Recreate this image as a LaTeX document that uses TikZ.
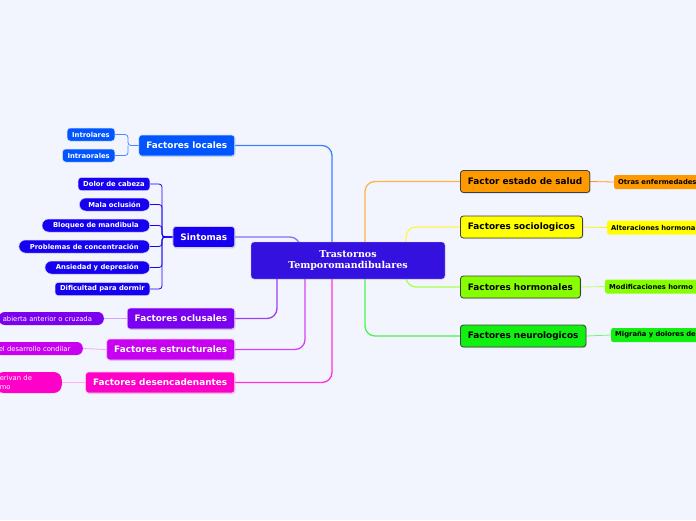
\documentclass[tikz,border=0pt]{standalone}
\usepackage{fontspec}
\setmainfont{DejaVu Sans}
\newfontfamily\serifcentral{DejaVu Serif}
\usetikzlibrary{backgrounds,shadows}

\definecolor{pagebg}{HTML}{F3F5FE}
\definecolor{ccentral}{HTML}{3511E0}
\definecolor{clocal}{HTML}{0055FF}
\definecolor{csint}{HTML}{1500F0}
\definecolor{cocl}{HTML}{7A00F0}
\definecolor{cestr}{HTML}{C800F0}
\definecolor{cdesen}{HTML}{FF00C8}
\definecolor{csalud}{HTML}{FF9900}
\definecolor{csocio}{HTML}{FFFF00}
\definecolor{chorm}{HTML}{88FF00}
\definecolor{cneuro}{HTML}{11F011}

\tikzset{
  topic/.style={rectangle, rounded corners=3pt, minimum height=21pt,
    inner xsep=7.5pt, inner ysep=0pt, font=\fontsize{8.9}{10.5}\selectfont\bfseries,
    drop shadow={shadow xshift=1pt, shadow yshift=-1pt, opacity=.25}},
  lefttopic/.style={topic, fill=#1, draw=white!80!#1, line width=0.6pt,
    text=white, anchor=east},
  righttopic/.style={topic, fill=#1, draw=black!75, line width=0.8pt,
    text=black, anchor=west, minimum height=22pt},
  leftleaf/.style={rectangle, rounded corners=3pt, fill=#1, draw=white!80!#1,
    line width=0.5pt, text=white, anchor=east, minimum height=13pt,
    inner xsep=5pt, inner ysep=0pt, font=\fontsize{6.8}{8}\selectfont\bfseries},
  pillleaf/.style={leftleaf=#1, rounded corners=6.5pt, inner xsep=11pt},
  edgeleaf/.style={rectangle, rounded corners=6pt, fill=#1, text=white,
    anchor=east, minimum height=13pt, inner xsep=4pt, inner ysep=0pt,
    align=left, font=\fontsize{6.8}{8.5}\selectfont},
  rightleaf/.style={rectangle, rounded corners=2pt, fill=#1, text=black,
    anchor=west, minimum height=14pt, inner xsep=4pt, inner ysep=0pt,
    text width=100pt, align=left, font=\fontsize{6.8}{8}\selectfont\bfseries},
  link/.style={draw=#1, line width=1.3pt, rounded corners=10pt},
  leaflink/.style={draw=#1, line width=0.8pt},
  bracket/.style={draw=#1, line width=0.8pt, rounded corners=3pt}
}

\begin{document}
\begin{tikzpicture}[x=1pt, y=-1pt]
\useasboundingbox (0,0) rectangle (696,520);

% tema central
\node[rectangle, rounded corners=3pt, fill=ccentral, draw=white!70!ccentral,
  minimum width=194pt, minimum height=37pt, inner sep=0pt, align=center,
  text=white, font=\serifcentral\fontsize{9.5}{11}\selectfont\bfseries]
  (central) at (348,260.5) {Trastornos\\Temporomandibulares};

% ramas izquierdas
\node[lefttopic=clocal] (locales) at (235,145.5) {Factores locales};
\node[lefttopic=csint] (sintomas) at (235,237) {Sintomas};
\node[lefttopic=cocl] (oclusales) at (235,318.5) {Factores oclusales};
\node[lefttopic=cestr] (estructurales) at (235,349.5) {Factores estructurales};
\node[lefttopic=cdesen] (desencadenantes) at (235,382.5) {Factores desencadenantes};

% ramas derechas
\node[righttopic=csalud] (salud) at (460,181.5) {Factor estado de salud};
\node[righttopic=csocio] (socio) at (460,227) {Factores sociologicos};
\node[righttopic=chorm] (hormonales) at (460,287) {Factores hormonales};
\node[righttopic=cneuro] (neuro) at (460,336) {Factores neurologicos};

% hojas de factores locales
\node[leftleaf=clocal] (introlares) at (115,134.5) {Introlares};
\node[leftleaf=clocal] (intraorales) at (115,155.5) {Intraorales};

% hojas de sintomas
\node[leftleaf=csint] (dolor) at (150,184) {Dolor de cabeza};
\node[pillleaf=csint, inner xsep=9pt] (mala) at (150,204.5) {Mala oclusión};
\node[pillleaf=csint] (bloqueo) at (150,225.5) {Bloqueo de mandibula};
\node[pillleaf=csint] (problemas) at (150,246.5) {Problemas de concentración};
\node[pillleaf=csint] (ansiedad) at (150,267.5) {Ansiedad y depresión};
\node[leftleaf=csint] (dificultad) at (150,289) {Dificultad para dormir};

% hojas cortadas por el borde
\node[edgeleaf=cocl, text width=97pt] (mordida) at (104,318.5) {abierta anterior o cruzada};
\node[edgeleaf=cestr, text width=80pt] (condilar) at (83,348.5) {el desarrollo condilar};
\node[edgeleaf=cdesen, text width=58pt, minimum height=21pt, rounded corners=8pt]
  (derivan) at (62,382.5) {erivan de\\mo};

\node[rightleaf=csalud] (otras) at (614,182) {Otras enfermedades};
\node[rightleaf=csocio] (alteraciones) at (607,227.5) {Alteraciones hormona};
\node[rightleaf=chorm] (modificaciones) at (605,286.5) {Modificaciones hormo};
\node[rightleaf=cneuro] (migrana) at (611,335) {Migraña y dolores de};

\coordinate (sjoin) at (162,237);
\coordinate (ljoin) at (128,145.5);

\begin{pgfonlayer}{background}
\fill[pagebg] (0,0) rectangle (696,520);

% conectores al tema central
\draw[link=clocal!75] (locales.east) -| ([xshift=-16pt]central.north);
\draw[link=csint!55] (sintomas.east) -| ([xshift=-48pt]central.north);
\draw[link=cocl!75] (oclusales.east) -| ([xshift=-71pt]central.south);
\draw[link=cestr!75] (estructurales.east) -| ([xshift=-43pt]central.south);
\draw[link=cdesen!80] (desencadenantes.east) -| ([xshift=-16pt]central.south);

\draw[link=csalud!75] ([xshift=17pt]central.north) |- (salud.west);
\draw[link=csocio!90!orange!70] ([xshift=58pt]central.north) |- (socio.west);
\draw[link=chorm!70] ([xshift=58pt]central.south) |- (hormonales.west);
\draw[link=cneuro!75] ([xshift=17pt]central.south) |- (neuro.west);

% conectores a las hojas
\draw[bracket=clocal!70] (locales.west) -- (ljoin) |- (introlares.east);
\draw[bracket=clocal!70] (ljoin) |- (intraorales.east);
\foreach \leaf in {dolor,mala,bloqueo,problemas,ansiedad,dificultad}
  \draw[bracket=csint] (sintomas.west) -- (sjoin) |- (\leaf.east);

\draw[leaflink=cocl!35] (oclusales.west) -- (mordida.east);
\draw[leaflink=cestr!35] (estructurales.west) -- (condilar.east);
\draw[leaflink=cdesen!30] (desencadenantes.west) -- (derivan.east);

\draw[leaflink=csalud] (salud.east) -- (otras.west);
\draw[leaflink=csocio!90!orange] (socio.east) -- (alteraciones.west);
\draw[leaflink=chorm!60] (hormonales.east) -- (modificaciones.west);
\draw[leaflink=cneuro!60] (neuro.east) -- (migrana.west);
\end{pgfonlayer}

\end{tikzpicture}
\end{document}
